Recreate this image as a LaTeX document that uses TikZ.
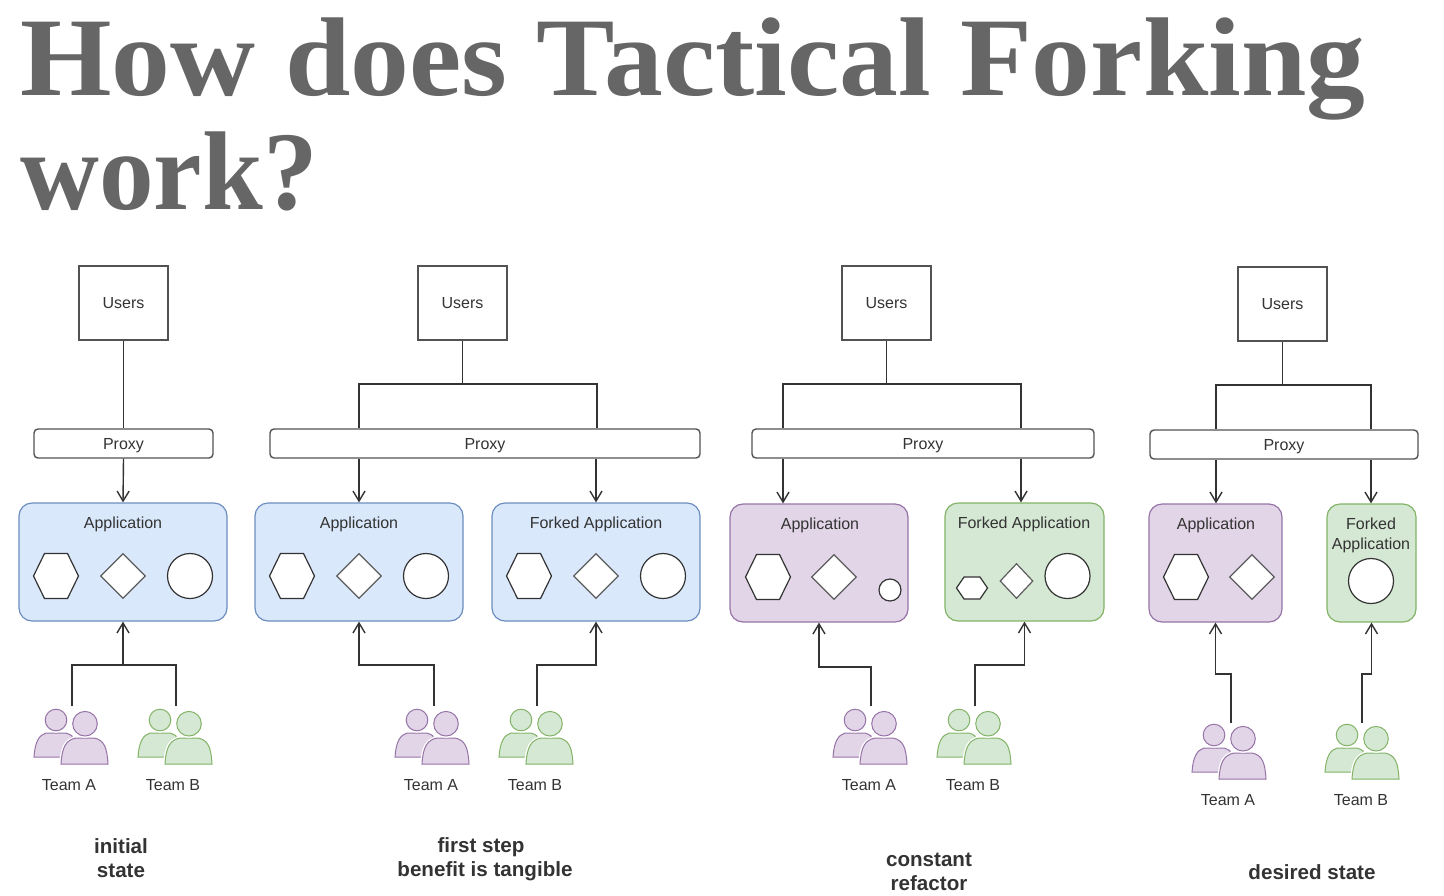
\documentclass[tikz,border=0pt]{standalone}
\usepackage{fontspec}
\setmainfont{Liberation Sans}
\newfontfamily\titlefont{Liberation Serif}
\usetikzlibrary{shapes.geometric,arrows.meta}
\definecolor{titlegray}{HTML}{666666}
\definecolor{inkgray}{HTML}{333333}
\definecolor{bluefill}{HTML}{DAE8FC}
\definecolor{blueline}{HTML}{6C8EBF}
\definecolor{purplefill}{HTML}{E1D5E7}
\definecolor{purpleline}{HTML}{9673A6}
\definecolor{greenfill}{HTML}{D5E8D4}
\definecolor{greenline}{HTML}{82B366}
\tikzset{
  txt/.style={font=\fontsize{8}{10}\selectfont, text=inkgray, inner sep=0, align=center},
  lab/.style={txt, text height=5.8pt, text depth=0pt},
  caption/.style={font=\fontsize{10.3}{12}\selectfont\bfseries, text=inkgray, inner sep=0, align=center},
  headline/.style={font=\titlefont\bfseries\fontsize{56}{56}\selectfont, text=titlegray, inner sep=0, anchor=base west},
  usersbox/.style={lab, draw=inkgray!85, line width=.7pt, minimum width=44.5pt, minimum height=37pt},
  proxybox/.style={lab, draw=inkgray!85, line width=.7pt, rounded corners=2pt, minimum height=14.5pt},
  appbox/.style={line width=.6pt, rounded corners=6.5pt, minimum height=59pt, inner sep=0},
  appblue/.style={appbox, draw=blueline, fill=bluefill},
  apppurple/.style={appbox, draw=purpleline, fill=purplefill},
  appgreen/.style={appbox, draw=greenline, fill=greenfill},
  dia/.style={draw=inkgray!80, fill=white, line width=.6pt, inner sep=0, diamond, minimum width=22.5pt, minimum height=22.5pt},
  circ/.style={draw=inkgray, fill=white, line width=.6pt, inner sep=0, circle, minimum size=22.5pt},
  wire/.style={draw=inkgray, line width=.7pt},
  teama/.style={draw=purpleline, fill=purplefill},
  teamb/.style={draw=greenline, fill=greenfill},
  hexa/.pic={
    \draw[inkgray, fill=white, line width=.6pt] (-22.5,0) -- (-11.5,-22.5) -- (11.5,-22.5) -- (22.5,0) -- (11.5,22.5) -- (-11.5,22.5) -- cycle;
  },
  team/.pic={
    \path[pic actions, line width=.5pt] (0,48) .. controls (1,33) and (5,26) .. (12,24)
      -- (32,24) .. controls (35,25) and (37,26) .. (38,27) -- (38,48) -- cycle;
    \path[draw=white, fill=white, line width=1.8pt] (27,55) .. controls (28,38) and (32,31) .. (42,29)
      -- (60,29) .. controls (70,31) and (73,38) .. (74,55) -- cycle;
    \path[pic actions, line width=.5pt] (27,55) .. controls (28,38) and (32,31) .. (42,29)
      -- (60,29) .. controls (70,31) and (73,38) .. (74,55) -- cycle;
    \path[draw=white, fill=white, line width=1.8pt] (22,11) circle [radius=10.8];
    \path[pic actions, line width=.5pt] (22,11) circle [radius=10.8];
    \path[draw=white, fill=white, line width=1.8pt] (51,14.7) circle [radius=12.3];
    \path[pic actions, line width=.5pt] (51,14.7) circle [radius=12.3];
  }
}
\begin{document}
\begin{tikzpicture}[x=.5pt,y=-.5pt,>={Straight Barb[length=5pt,width=6pt]}]
\useasboundingbox (0,0) rectangle (1444,895);
\node[headline] (title1) at (20,95) {\scalebox{1.05}[1]{How does Tactical Forking}};
\node[headline] (title2) at (20,209) {\scalebox{.975}[1]{work?}};

% initial state
\node[usersbox] (users1) at (123.5,303) {Users};
\node[proxybox, minimum width=89.5pt] (proxy1) at (123.5,443.5) {Proxy};
\node[appblue, minimum width=104pt] (app1) at (123,562) {};
\node[lab] (app1t) at (123,523) {Application};
\pic (hex1) at (56,576) {hexa};
\node[dia] (dia1) at (123,576) {};
\node[circ] (cir1) at (190,576) {};
\draw[wire] (users1.south) -- (proxy1.north);
\draw[wire,->] (proxy1.south) -- (app1.north);
\pic[teama] (ta1) at (34,709) {team};
\pic[teamb] (tb1) at (138,709) {team};
\node[txt] (ta1t) at (69,785) {Team A};
\node[txt] (tb1t) at (173,785) {Team B};
\coordinate (ca1) at (72,706);
\coordinate (cb1) at (176,706);
\coordinate (ba1) at (72,665);
\coordinate (bb1) at (176,665);
\draw[wire] (ca1) -- (ba1) -- (bb1) -- (cb1);
\draw[wire,->] (app1.south |- ba1) -- (app1.south);
\node[caption] (cap1) at (121,858) {initial\\state};

% first step
\node[usersbox] (users2) at (462.5,303) {Users};
\node[proxybox, minimum width=215pt] (proxy2) at (485,443.5) {Proxy};
\node[appblue, minimum width=104pt] (app2) at (359,562) {};
\node[appblue, minimum width=104pt] (fork2) at (596,562) {};
\node[lab] (app2t) at (359,523) {Application};
\node[lab] (fork2t) at (596,523) {Forked Application};
\pic (hex2) at (292,576) {hexa};
\node[dia] (dia2) at (359,576) {};
\node[circ] (cir2) at (426,576) {};
\pic (hex2f) at (529,576) {hexa};
\node[dia] (dia2f) at (596,576) {};
\node[circ] (cir2f) at (663,576) {};
\coordinate (fl2) at (359,384);
\coordinate (fr2) at (597,384);
\draw[wire] (users2.south) -- (users2.south |- fl2);
\draw[wire] (proxy2.north -| fl2) -- (fl2) -- (fr2) -- (proxy2.north -| fr2);
\draw[wire,->] (proxy2.south -| app2.north) -- (app2.north);
\draw[wire,->] (proxy2.south -| fork2.north) -- (fork2.north);
\pic[teama] (ta2) at (395,709) {team};
\pic[teamb] (tb2) at (499,709) {team};
\node[txt] (ta2t) at (431,785) {Team A};
\node[txt] (tb2t) at (535,785) {Team B};
\coordinate (ca2) at (434,706);
\coordinate (cb2) at (537,706);
\coordinate (ba2) at (434,665);
\coordinate (bb2) at (537,665);
\draw[wire,->] (ca2) -- (ba2) -| (app2.south);
\draw[wire,->] (cb2) -- (bb2) -| (fork2.south);
\node[caption] (cap2a) at (481,847) {first step};
\node[caption] (cap2b) at (485,871) {benefit is tangible};

% constant refactor
\node[usersbox] (users3) at (886.5,303) {Users};
\node[proxybox, minimum width=171pt] (proxy3) at (923,443.5) {Proxy};
\node[apppurple, minimum width=89pt] (app3) at (819,563) {};
\node[appgreen, minimum width=79.5pt] (fork3) at (1024.5,562) {};
\node[lab] (app3t) at (820,524) {Application};
\node[lab] (fork3t) at (1024,523) {Forked Application};
\pic (hex3) at (768,577) {hexa};
\node[dia] (dia3) at (834,577) {};
\node[circ, minimum size=11pt] (cir3) at (890,590) {};
\pic[xscale=.69, yscale=.49] (hex3f) at (972,588) {hexa};
\node[dia, minimum width=16.5pt, minimum height=17.5pt] (dia3f) at (1016.5,581) {};
\node[circ] (cir3f) at (1067.5,576) {};
\coordinate (fl3) at (783,384);
\coordinate (fr3) at (1021,384);
\draw[wire] (users3.south) -- (users3.south |- fl3);
\draw[wire] (proxy3.north -| fl3) -- (fl3) -- (fr3) -- (proxy3.north -| fr3);
\draw[wire,->] (proxy3.south -| fl3) -- (fl3 |- app3.north);
\draw[wire,->] (proxy3.south -| fr3) -- (fr3 |- fork3.north);
\pic[teama] (ta3) at (833,709) {team};
\pic[teamb] (tb3) at (937,709) {team};
\node[txt] (ta3t) at (869,785) {Team A};
\node[txt] (tb3t) at (973,785) {Team B};
\coordinate (ca3) at (871,706);
\coordinate (cb3) at (975,706);
\coordinate (ba3) at (871,667);
\coordinate (bb3) at (975,665);
\draw[wire,->] (ca3) -- (ba3) -| (app3.south);
\draw[wire,->] (cb3) -- (bb3) -| (fork3.south);
\node[caption] (cap3) at (929,872) {constant\\refactor};

% desired state
\node[usersbox] (users4) at (1282.5,304) {Users};
\node[proxybox, minimum width=134pt] (proxy4) at (1284,444.5) {Proxy};
\node[apppurple, minimum width=66.5pt] (app4) at (1215.5,563) {};
\node[appgreen, minimum width=44.5pt] (fork4) at (1371.5,563) {};
\node[lab] (app4t) at (1216,524) {Application};
\node[txt] (fork4t) at (1371,535.5) {Forked\\Application};
\pic (hex4) at (1186,577) {hexa};
\node[dia] (dia4) at (1252,577) {};
\node[circ] (cir4) at (1371,581) {};
\coordinate (fl4) at (1216,385);
\coordinate (fr4) at (1371,385);
\draw[wire] (users4.south) -- (users4.south |- fl4);
\draw[wire] (proxy4.north -| fl4) -- (fl4) -- (fr4) -- (proxy4.north -| fr4);
\draw[wire,->] (proxy4.south -| fl4) -- (fl4 |- app4.north);
\draw[wire,->] (proxy4.south -| fr4) -- (fr4 |- fork4.north);
\pic[teama] (ta4) at (1192,724) {team};
\pic[teamb] (tb4) at (1325,724) {team};
\node[txt] (ta4t) at (1228,800) {Team A};
\node[txt] (tb4t) at (1361,800) {Team B};
\coordinate (ca4) at (1231,723);
\coordinate (cb4) at (1362,723);
\coordinate (ba4) at (1231,674);
\coordinate (bb4) at (1362,674);
\draw[wire,->] (ca4) -- (ba4) -| (app4.south);
\draw[wire,->] (cb4) -- (bb4) -| (fork4.south);
\node[caption] (cap4) at (1312,872) {desired state};
\end{tikzpicture}
\end{document}
